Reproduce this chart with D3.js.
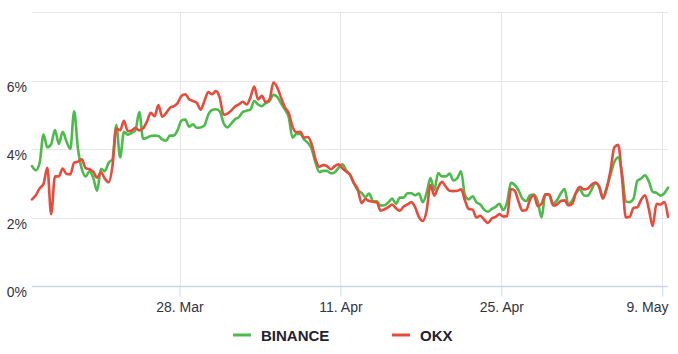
<!DOCTYPE html>
<html>
<head>
<meta charset="utf-8">
<script src="https://cdn.jsdelivr.net/npm/d3@7"></script>
<style>
  body { margin: 0; background: #fff; }
  #chart text { font-family: "Liberation Sans", Arial, sans-serif; }
</style>
</head>
<body>
<div id="chart"></div>
<script>
// ---- Data (8-hour funding samples) ----
const startTime = Date.UTC(2023, 2, 15, 4);
const stepHours = 8;

const binance = [
  3.50, 3.38, 3.60, 4.42, 4.05, 4.14, 4.55, 4.15, 4.50, 4.22,
  4.00, 5.10, 4.00, 3.42, 3.20, 3.35, 3.15, 2.78, 3.42, 3.35,
  3.60, 3.70, 4.70, 3.75, 4.50, 4.42, 4.47, 4.55, 5.08, 4.30,
  4.33, 4.38, 4.39, 4.38, 4.28, 4.24, 4.39, 4.39, 4.55, 4.83,
  4.86, 4.65, 4.72, 4.62, 4.63, 4.69, 5.00, 5.14, 5.16, 5.10,
  4.76, 4.63, 4.74, 4.87, 4.93, 5.08, 5.12, 5.15, 5.40, 5.30,
  5.25, 5.34, 5.40, 5.58, 5.52, 5.33, 5.15, 4.93, 4.33, 4.44,
  4.44, 4.28, 4.18, 4.00, 3.60, 3.33, 3.36, 3.36, 3.29, 3.32,
  3.45, 3.55, 3.38, 3.25, 3.00, 2.80, 2.72, 2.60, 2.70, 2.48,
  2.47, 2.35, 2.36, 2.44, 2.55, 2.40, 2.58, 2.58, 2.71, 2.71,
  2.65, 2.70, 2.45, 2.72, 3.15, 2.80, 3.30, 3.20, 3.20, 3.28,
  3.08, 3.15, 3.35, 2.65, 2.53, 2.62, 2.44, 2.38, 2.23, 2.17,
  2.25, 2.31, 2.40, 2.22, 2.45, 3.01, 2.95, 2.79, 2.55, 2.48,
  2.65, 2.67, 2.47, 2.00, 2.68, 2.67, 2.40, 2.50, 2.70, 2.83,
  2.38, 2.50, 2.72, 2.82, 2.65, 2.63, 2.80, 3.00, 2.92, 2.60,
  2.87, 3.25, 3.62, 3.75, 3.30, 2.47, 2.45, 2.55, 3.07, 3.14,
  3.23, 3.05, 2.75, 2.72, 2.64, 2.70, 2.87
];

const okx = [
  2.53, 2.65, 2.85, 2.98, 3.45, 2.10, 3.20, 3.20, 3.43, 3.27,
  3.26, 3.60, 3.63, 3.70, 3.44, 3.41, 3.33, 3.16, 3.32, 3.14,
  3.03, 3.50, 4.60, 4.55, 4.82, 4.52, 4.54, 4.62, 4.54, 4.60,
  4.80, 5.06, 4.96, 5.28, 4.94, 5.05, 5.20, 5.25, 5.34, 5.55,
  5.60, 5.45, 5.40, 5.35, 5.15, 5.40, 5.66, 5.60, 5.69, 5.50,
  5.00, 5.03, 5.12, 5.24, 5.30, 5.38, 5.30, 5.50, 5.82, 5.45,
  5.55, 5.37, 5.45, 5.94, 5.80, 5.50, 5.22, 5.05, 4.65, 4.49,
  4.50, 4.33, 4.35, 4.14, 3.70, 3.48, 3.53, 3.50, 3.41, 3.50,
  3.55, 3.44, 3.34, 3.25, 3.01, 2.83, 2.42, 2.54, 2.48, 2.46,
  2.44, 2.20, 2.24, 2.30, 2.38, 2.27, 2.20, 2.32, 2.38, 2.45,
  2.30, 2.01, 1.90, 2.20, 2.95, 2.64, 2.88, 3.04, 2.90, 2.78,
  2.77, 2.78, 2.82, 2.50, 2.25, 2.23, 2.00, 2.05, 1.94, 1.84,
  1.97, 2.02, 2.10, 2.03, 2.04, 2.83, 2.78, 2.46, 2.20, 2.22,
  2.53, 2.65, 2.33, 2.40, 2.68, 2.67, 2.35, 2.38, 2.48, 2.50,
  2.35, 2.40, 2.73, 2.90, 2.82, 2.84, 2.95, 3.02, 2.90, 2.55,
  2.85, 3.38, 4.05, 4.12, 3.15, 2.00, 2.02, 2.28, 2.30, 2.52,
  2.65, 2.25, 1.75, 2.40, 2.38, 2.45, 2.02
];

const seriesNames = ["BINANCE", "OKX"];
const seriesColors = { BINANCE: "#4dbb4b", OKX: "#e84a3c" };

const xTickDates = ["2023-03-28", "2023-04-11", "2023-04-25", "2023-05-09"];
const yTickValues = [0, 2, 4, 6, 8];
const yLabelValues = [0, 2, 4, 6];

// ---- Layout ----
const width = 678;
const height = 354;
const plot = { left: 32, right: 668, top: 12, bottom: 286 };

const svg = d3.select("#chart")
  .append("svg")
  .attr("width", width)
  .attr("height", height);

const toSeries = values => values.map((v, i) => ({
  date: new Date(startTime + i * stepHours * 3600 * 1000),
  value: v
}));

const data = {
  BINANCE: toSeries(binance),
  OKX: toSeries(okx)
};

// ---- Scales ----
const xScale = d3.scaleUtc()
  .domain(d3.extent(data.BINANCE, d => d.date))
  .range([plot.left, plot.right]);

const yScale = d3.scaleLinear()
  .domain([0, 8])
  .range([plot.bottom, plot.top]);

const tickDates = xTickDates.map(s => new Date(s + "T00:00:00Z"));

// ---- Grid ----
svg.append("g")
  .attr("class", "y-grid")
  .selectAll("line")
  .data(yTickValues.filter(v => v > 0))
  .join("line")
  .attr("x1", plot.left)
  .attr("x2", plot.right)
  .attr("y1", d => Math.round(yScale(d)) + 0.5)
  .attr("y2", d => Math.round(yScale(d)) + 0.5)
  .attr("stroke", "#e6e6e6");

svg.append("g")
  .attr("class", "x-grid")
  .selectAll("line")
  .data(tickDates)
  .join("line")
  .attr("x1", d => Math.round(xScale(d)) + 0.5)
  .attr("x2", d => Math.round(xScale(d)) + 0.5)
  .attr("y1", plot.top)
  .attr("y2", plot.bottom)
  .attr("stroke", "#e6e6e6");

// ---- Bottom axis ----
const xAxis = svg.append("g")
  .attr("class", "x-axis")
  .attr("transform", `translate(0,${plot.bottom + 0.5})`)
  .call(d3.axisBottom(xScale)
    .tickValues(tickDates)
    .tickFormat(d3.utcFormat("%-d. %b"))
    .tickSize(10)
    .tickPadding(6));

xAxis.select(".domain").remove();
xAxis.selectAll(".tick line").attr("stroke", "#ccd6eb");
xAxis.selectAll(".tick text")
  .attr("fill", "#333344")
  .style("font-size", "14px");

// keep the last label inside the chart, like the original
xAxis.selectAll(".tick text")
  .filter((d, i, nodes) => i === nodes.length - 1)
  .attr("text-anchor", "end")
  .attr("dx", d => `${width - 10 - xScale(d)}px`);

svg.append("line")
  .attr("x1", plot.left)
  .attr("x2", plot.right)
  .attr("y1", plot.bottom + 0.5)
  .attr("y2", plot.bottom + 0.5)
  .attr("stroke", "#ccd6eb")
  .attr("stroke-width", 1.5);

// ---- Left labels ----
svg.append("g")
  .attr("class", "y-labels")
  .selectAll("text")
  .data(yLabelValues)
  .join("text")
  .attr("x", plot.left - 5)
  .attr("y", d => yScale(d) + 11)
  .attr("text-anchor", "end")
  .attr("fill", "#333344")
  .style("font-size", "14px")
  .text(d => `${d}%`);

// ---- Lines ----
const line = d3.line()
  .x(d => xScale(d.date))
  .y(d => yScale(d.value))
  .curve(d3.curveMonotoneX);

svg.append("g")
  .attr("class", "series")
  .selectAll("path")
  .data(seriesNames)
  .join("path")
  .attr("d", name => line(data[name]))
  .attr("fill", "none")
  .attr("stroke", name => seriesColors[name])
  .attr("stroke-width", 2.6)
  .attr("stroke-linejoin", "round")
  .attr("stroke-linecap", "round");

// ---- Legend ----
const legendX = [233, 392];
const legend = svg.append("g")
  .attr("class", "legend")
  .attr("transform", "translate(0, 335)");

const legendItem = legend.selectAll(".legend-item")
  .data(seriesNames)
  .join("g")
  .attr("class", "legend-item")
  .attr("transform", (d, i) => `translate(${legendX[i]}, 0)`);

legendItem.append("line")
  .attr("x1", 0)
  .attr("x2", 18)
  .attr("y1", 0)
  .attr("y2", 0)
  .attr("stroke", d => seriesColors[d])
  .attr("stroke-width", 3);

legendItem.append("text")
  .attr("x", 28)
  .attr("y", 6)
  .attr("fill", "#222233")
  .style("font-size", "15px")
  .style("font-weight", "bold")
  .text(d => d);
</script>
</body>
</html>
